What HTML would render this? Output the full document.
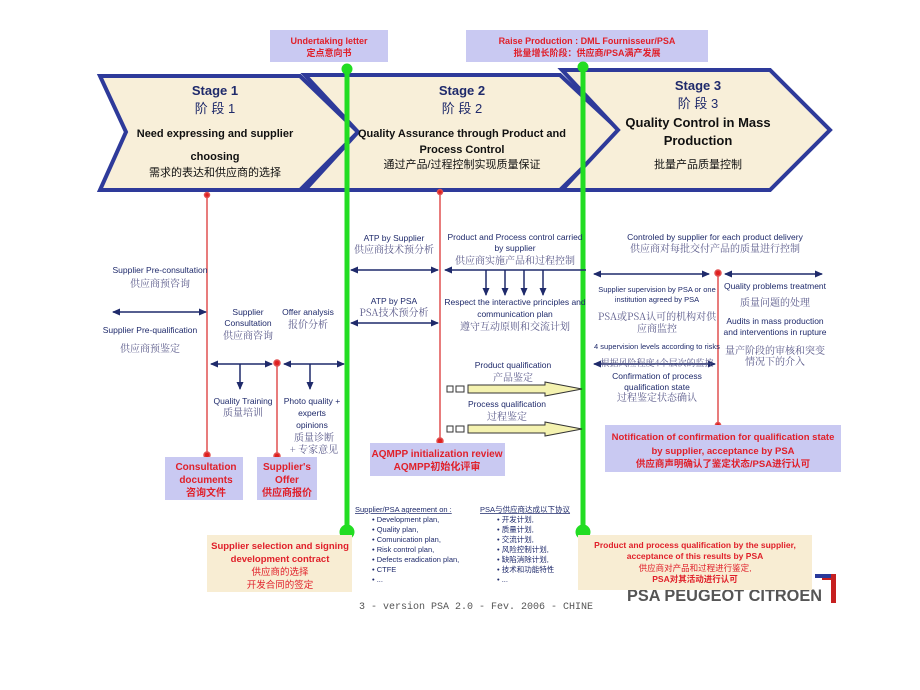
<!DOCTYPE html>
<html><head><meta charset="utf-8"><style>
html,body{margin:0;padding:0;background:#fff;}
svg{display:block;font-family:"Liberation Sans","Noto Sans CJK SC",sans-serif;}
.b{fill:#1f2a6b;}
.cn{fill:#5a5a8a;font-family:"Noto Serif CJK SC","Liberation Serif",serif;}
.r{fill:#e0202a;font-weight:bold;}
</style></head><body>
<svg width="920" height="690" viewBox="0 0 920 690" xmlns="http://www.w3.org/2000/svg">
<defs>
<marker id="a" markerWidth="8" markerHeight="8" refX="7" refY="4" orient="auto-start-reverse" markerUnits="userSpaceOnUse"><path d="M0,0.5 L8,4 L0,7.5z" fill="#1f2a6b"/></marker>
</defs>
<rect width="920" height="690" fill="#fff"/>
<polygon points="100,76 300,76 358,132 300,190 100,190 126,132" fill="#f8efd9" stroke="#2e3a9a" stroke-width="4"/>
<polygon points="305,75 560,75 620,131 560,190 305,190 358,132" fill="#f8efd9" stroke="#2e3a9a" stroke-width="4"/>
<polygon points="562,70 770,70 830,130 770,190 562,190 618,130" fill="#f8efd9" stroke="#2e3a9a" stroke-width="4"/>
<g font-weight="bold" text-anchor="middle" fill="#111">
<text x="215" y="95" font-size="13" fill="#1f2a6b">Stage 1</text>
<text x="215" y="113" font-size="13" fill="#1f2a6b" font-weight="normal">阶 段 1</text>
<text x="215" y="137" font-size="11">Need expressing and supplier</text>
<text x="215" y="160" font-size="11">choosing</text>
<text x="215" y="176" font-size="11" font-weight="normal">需求的表达和供应商的选择</text>
<text x="462" y="95" font-size="13" fill="#1f2a6b">Stage 2</text>
<text x="462" y="113" font-size="13" fill="#1f2a6b" font-weight="normal">阶 段 2</text>
<text x="462" y="137" font-size="11">Quality Assurance through Product and</text>
<text x="462" y="153" font-size="11">Process Control</text>
<text x="462" y="168" font-size="11" font-weight="normal">通过产品/过程控制实现质量保证</text>
<text x="698" y="90" font-size="13" fill="#1f2a6b">Stage 3</text>
<text x="698" y="108" font-size="13" fill="#1f2a6b" font-weight="normal">阶 段 3</text>
<text x="698" y="127" font-size="13">Quality Control in Mass</text>
<text x="698" y="145" font-size="13">Production</text>
<text x="698" y="168" font-size="11" font-weight="normal">批量产品质量控制</text>
</g>
<rect x="270" y="30" width="118" height="32" fill="#c9c9f2"/>
<text x="329" y="44" font-size="9" class="r" text-anchor="middle">Undertaking letter</text>
<text x="329" y="56" font-size="9" class="r" text-anchor="middle" font-weight="normal">定点意向书</text>
<rect x="466" y="30" width="242" height="32" fill="#c9c9f2"/>
<text x="587" y="44" font-size="9" class="r" text-anchor="middle">Raise Production : DML Fournisseur/PSA</text>
<text x="587" y="56" font-size="9" class="r" text-anchor="middle" font-weight="normal">批量增长阶段：供应商/PSA满产发展</text>
<g stroke="#e05050" stroke-width="1.5" fill="#e02020">
<line x1="207" y1="195" x2="207" y2="455"/><circle cx="207" cy="195" r="2.5"/><circle cx="207" cy="455" r="3"/>
<line x1="277" y1="363" x2="277" y2="456"/><circle cx="277" cy="363" r="3"/><circle cx="277" cy="456" r="3"/>
<line x1="440" y1="192" x2="440" y2="441"/><circle cx="440" cy="192" r="2.5"/><circle cx="440" cy="441" r="3"/>
<line x1="718" y1="273" x2="718" y2="425"/><circle cx="718" cy="273" r="3"/><circle cx="718" cy="425" r="2.5"/>
</g>
<g stroke="#22dd22" stroke-width="5" fill="none">
<line x1="347" y1="66" x2="347" y2="528"/><circle cx="347" cy="69" r="3"/><circle cx="347" cy="532" r="5" fill="#22dd22"/>
<line x1="583" y1="62" x2="583" y2="528"/><circle cx="583" cy="67" r="3"/><circle cx="583" cy="532" r="5" fill="#22dd22"/>
</g>
<g stroke="#1f2a6b" stroke-width="1.5" marker-end="url(#a)" marker-start="url(#a)">
<line x1="113" y1="312" x2="206" y2="312"/>
<line x1="211" y1="364" x2="272" y2="364"/>
<line x1="284" y1="364" x2="344" y2="364"/>
<line x1="351" y1="270" x2="438" y2="270"/>
<line x1="351" y1="323" x2="438" y2="323"/>
<line x1="445" y1="270" x2="586" y2="270" marker-end="none"/>
<line x1="594" y1="274" x2="709" y2="274"/>
<line x1="725" y1="274" x2="822" y2="274"/>
<line x1="594" y1="364" x2="715" y2="364"/>
</g>
<g stroke="#1f2a6b" stroke-width="1.5" marker-end="url(#a)">
<line x1="240" y1="364" x2="240" y2="389"/>
<line x1="310" y1="364" x2="310" y2="389"/>
<line x1="486" y1="270" x2="486" y2="295"/>
<line x1="505" y1="270" x2="505" y2="295"/>
<line x1="524" y1="270" x2="524" y2="295"/>
<line x1="543" y1="270" x2="543" y2="295"/>
</g>
<g stroke="#333" stroke-width="1" fill="#f4f2b0">
<rect x="447" y="386" width="6" height="6" fill="#fff"/><rect x="456" y="386" width="8" height="6" fill="#fff"/>
<polygon points="468,385 545,385 545,382 582,389 545,396 545,393 468,393"/>
<rect x="447" y="426" width="6" height="6" fill="#fff"/><rect x="456" y="426" width="8" height="6" fill="#fff"/>
<polygon points="468,425 545,425 545,422 582,429 545,436 545,433 468,433"/>
</g>
<g font-size="8.5" text-anchor="middle" class="b">
<text x="160" y="273">Supplier Pre-consultation</text>
<text x="160" y="287" class="cn" font-size="10">供应商预咨询</text>
<text x="150" y="333">Supplier Pre-qualification</text>
<text x="150" y="352" class="cn" font-size="10">供应商预鉴定</text>
<text x="248" y="315">Supplier</text>
<text x="248" y="326">Consultation</text>
<text x="248" y="339" class="cn" font-size="10">供应商咨询</text>
<text x="308" y="315">Offer analysis</text>
<text x="308" y="328" class="cn" font-size="10">报价分析</text>
<text x="243" y="404">Quality Training</text>
<text x="243" y="416" class="cn" font-size="10">质量培训</text>
<text x="312" y="404">Photo quality +</text>
<text x="312" y="416">experts</text>
<text x="312" y="428">opinions</text>
<text x="314" y="441" class="cn" font-size="10">质量诊断</text>
<text x="314" y="453" class="cn" font-size="10">+ 专家意见</text>
<text x="394" y="241">ATP by Supplier</text>
<text x="394" y="253" class="cn" font-size="10">供应商技术预分析</text>
<text x="394" y="304">ATP by PSA</text>
<text x="394" y="316" class="cn" font-size="10">PSA技术预分析</text>
<text x="515" y="240">Product and Process control carried</text>
<text x="515" y="251">by supplier</text>
<text x="515" y="264" class="cn" font-size="10">供应商实施产品和过程控制</text>
<text x="515" y="305">Respect the interactive principles and</text>
<text x="515" y="317">communication plan</text>
<text x="515" y="330" class="cn" font-size="10">遵守互动原则和交流计划</text>
<text x="513" y="368">Product qualification</text>
<text x="513" y="381" class="cn" font-size="10">产品鉴定</text>
<text x="507" y="407">Process qualification</text>
<text x="507" y="420" class="cn" font-size="10">过程鉴定</text>
<text x="715" y="240">Controled by supplier for each product delivery</text>
<text x="715" y="252" class="cn" font-size="10">供应商对每批交付产品的质量进行控制</text>
<text x="657" y="292" font-size="7.5">Supplier supervision by PSA or one</text>
<text x="657" y="302" font-size="7.5">institution agreed by PSA</text>
<text x="657" y="320" class="cn" font-size="10">PSA或PSA认可的机构对供</text>
<text x="657" y="332" class="cn" font-size="10">应商监控</text>
<text x="657" y="349" font-size="7.5">4 supervision levels according to risks</text>
<text x="657" y="366" class="cn" font-size="9">根据风险程度4个层次的监控</text>
<text x="657" y="379">Confirmation of process</text>
<text x="657" y="390">qualification state</text>
<text x="657" y="401" class="cn" font-size="10">过程鉴定状态确认</text>
<text x="775" y="289">Quality problems treatment</text>
<text x="775" y="306" class="cn" font-size="10">质量问题的处理</text>
<text x="775" y="324">Audits in mass production</text>
<text x="775" y="335">and interventions in rupture</text>
<text x="775" y="354" class="cn" font-size="10">量产阶段的审核和突变</text>
<text x="775" y="365" class="cn" font-size="10">情况下的介入</text>
</g>
<rect x="165" y="457" width="78" height="43" fill="#c9c9f2"/>
<g text-anchor="middle" font-size="10" class="r">
<text x="206" y="470">Consultation</text><text x="206" y="483">documents</text><text x="206" y="496">咨询文件</text>
</g>
<rect x="257" y="457" width="60" height="43" fill="#c9c9f2"/>
<g text-anchor="middle" font-size="10" class="r">
<text x="287" y="470">Supplier's</text><text x="287" y="483">Offer</text><text x="287" y="496">供应商报价</text>
</g>
<rect x="370" y="443" width="135" height="33" fill="#c9c9f2"/>
<g text-anchor="middle" font-size="10" class="r">
<text x="437" y="457">AQMPP initialization review</text><text x="437" y="470">AQMPP初始化评审</text>
</g>
<rect x="605" y="425" width="236" height="47" fill="#c9c9f2"/>
<g text-anchor="middle" font-size="9.5" class="r">
<text x="723" y="440">Notification of confirmation for qualification state</text>
<text x="723" y="454">by supplier, acceptance by PSA</text>
<text x="723" y="467">供应商声明确认了鉴定状态/PSA进行认可</text>
</g>
<g font-size="7.5" class="b">
<text x="355" y="512" text-decoration="underline">Supplier/PSA agreement on :</text>
<text x="372" y="522">•  Development plan,</text>
<text x="372" y="532">•  Quality plan,</text>
<text x="372" y="542">•  Comunication plan,</text>
<text x="372" y="552">•  Risk control plan,</text>
<text x="372" y="562">•  Defects eradication plan,</text>
<text x="372" y="572">•  CTFE</text>
<text x="372" y="582">•  ...</text>
<text x="480" y="512" text-decoration="underline">PSA与供应商达成以下协议</text>
<text x="497" y="522">•  开发计划,</text>
<text x="497" y="532">•  质量计划,</text>
<text x="497" y="542">•  交流计划,</text>
<text x="497" y="552">•  风险控制计划,</text>
<text x="497" y="562">•  缺陷消除计划,</text>
<text x="497" y="572">•  技术和功能特性</text>
<text x="497" y="582">•  ...</text>
</g>
<rect x="207" y="535" width="145" height="57" fill="#f8edd3"/>
<g text-anchor="middle" font-size="9.5" class="r">
<text x="280" y="549">Supplier selection and signing</text>
<text x="280" y="562">development contract</text>
<text x="280" y="575" font-weight="normal">供应商的选择</text>
<text x="280" y="588" font-weight="normal">开发合同的签定</text>
</g>
<text x="627" y="601" font-size="17" font-weight="bold" fill="#555" textLength="195" lengthAdjust="spacingAndGlyphs">PSA PEUGEOT CITROEN</text>
<path d="M822,574 L836,574 L836,603 L831,603 L831,580 L822,580z" fill="#c62020"/>
<rect x="815" y="574" width="16" height="4" fill="#2a3a9a"/>
<rect x="578" y="535" width="234" height="55" fill="#f8edd3"/>
<g text-anchor="middle" font-size="8.5" class="r">
<text x="695" y="548">Product and process qualification by the supplier,</text>
<text x="695" y="559">acceptance of this results by PSA</text>
<text x="695" y="571" font-weight="normal">供应商对产品和过程进行鉴定,</text>
<text x="695" y="582">PSA对其活动进行认可</text>
</g>
<text x="476" y="609" font-size="10" fill="#555" text-anchor="middle" font-family="Liberation Mono,monospace">3 - version PSA 2.0 - Fev. 2006 -  CHINE</text>
</svg>
</body></html>
